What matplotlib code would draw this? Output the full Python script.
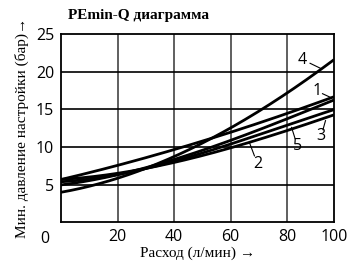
import numpy as np
import matplotlib.pyplot as plt

# flow (l/min) vs min. setting pressure (bar).
# the drawn right edge (labelled 100) sits at ~96.5 on the grid spacing
flow = [0, 20, 40, 60, 80, 96.5]
curve_1 = [5.7, 7.5, 9.7, 12.0, 14.4, 16.7]
curve_2 = [5.0, 6.2, 8.4, 11.0, 13.6, 16.3]
curve_3 = [5.7, 6.5, 7.9, 10.0, 12.1, 14.3]
curve_4 = [4.0, 5.8, 8.8, 12.5, 17.2, 21.6]
curve_5 = [5.4, 6.3, 8.1, 10.5, 12.8, 15.0]

curves = [curve_1, curve_2, curve_3, curve_4, curve_5]

x_ticks = [20, 40, 60, 80, 96.5]
x_tick_labels = ["20", "40", "60", "80", "100"]
y_ticks = [5, 10, 15, 20, 25]

# label text, label position, leader end
labels = ["4", "1", "3", "5", "2"]
label_xy = [(85.4, 21.6), (90.6, 17.4), (92.0, 11.5), (83.6, 10.1), (69.5, 7.7)]
leader_xy = [(92.0, 20.4), (95.2, 16.6), (93.5, 13.5), (81.5, 12.6), (66.7, 10.5)]

fig = plt.figure(figsize=(3.49, 2.64), dpi=100)
ax = fig.add_axes([0.1748, 0.158, 0.7822, 0.713])

xs = np.linspace(0, 96.5, 200)
for ys in curves:
    # smooth the read-off points
    coef = np.polyfit(flow, ys, 3)
    ax.plot(xs, np.polyval(coef, xs), color="black", lw=2.0,
            solid_capstyle="butt")

for txt, (lx, ly), (ex, ey) in zip(labels, label_xy, leader_xy):
    ax.text(lx, ly, txt, fontsize=11.5, family="Open Sans",
            ha="center", va="center")
    ax.plot([lx + (ex - lx) * 0.4, ex], [ly + (ey - ly) * 0.4, ey],
            color="black", lw=0.8)

ax.set_xlim(0, 96.5)
ax.set_ylim(0, 25)
ax.set_xticks(x_ticks)
ax.set_xticklabels(x_tick_labels)
ax.set_yticks(y_ticks)
ax.tick_params(length=0, pad=5, labelsize=11.5)
for lab in ax.get_xticklabels() + ax.get_yticklabels():
    lab.set_family("Open Sans")

for x in x_ticks[:-1]:
    ax.axvline(x, color="#444444", lw=1.2, zorder=0)
for y in y_ticks[:-1]:
    ax.axhline(y, color="black", lw=1.2, zorder=0)
for sp in ax.spines.values():
    sp.set_linewidth(1.3)

ax.text(-0.06, -0.09, "0", transform=ax.transAxes, fontsize=11.5,
        family="Open Sans", ha="center", va="center")

ax.set_xlabel("Расход (л/мин) →", family="Liberation Serif", fontsize=11,
              labelpad=1)
ax.set_ylabel("Мин. давление настройки (бар)→", family="Liberation Serif",
              fontsize=11, labelpad=5)
fig.text(0.195, 0.94, "PEmin-Q диаграмма", family="Liberation Serif",
         fontweight="bold", fontsize=11, ha="left", va="center")

fig.savefig("out.png", dpi=100)
